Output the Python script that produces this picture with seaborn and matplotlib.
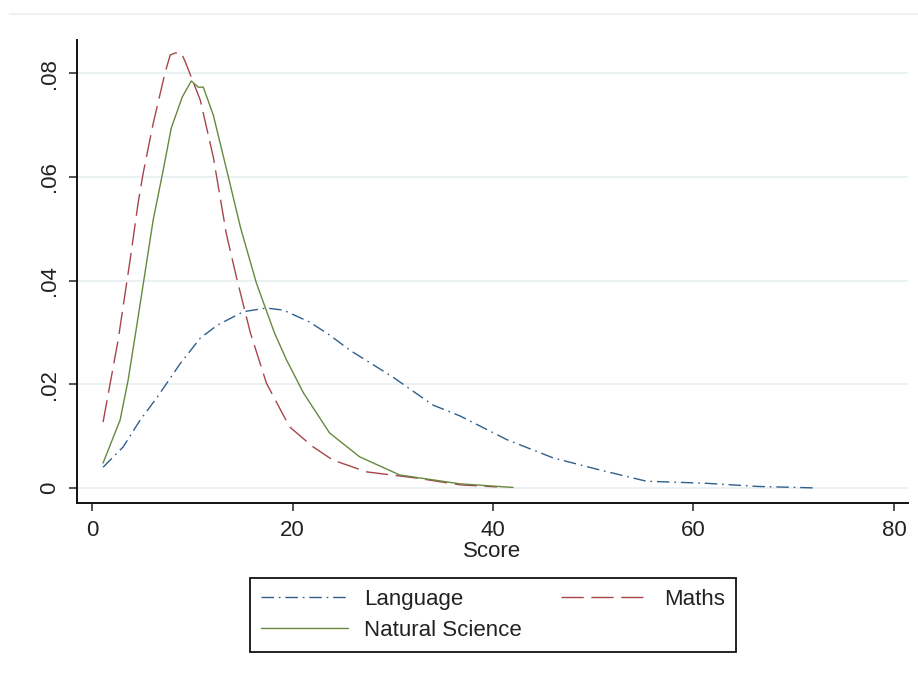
import pandas as pd
import seaborn as sns
import matplotlib.pyplot as plt
from matplotlib.lines import Line2D

# ============================
# DATA
# ============================
lang_x = [1.1, 3.1, 4.8, 6.5, 8.8, 10.8, 12.5, 15.1, 17.4, 19.1, 21.7, 23.7,
          25.7, 30.0, 34.0, 36.7, 41.4, 46.0, 50.6, 55.3, 61.3, 66.3, 72.3]
lang_y = [0.0040, 0.0079, 0.0131, 0.0175, 0.0240, 0.0289, 0.0314, 0.0340,
          0.0347, 0.0343, 0.0320, 0.0295, 0.0266, 0.0214, 0.0160, 0.0139,
          0.0093, 0.0058, 0.0035, 0.0013, 0.0009, 0.0003, 0.0000]

maths_x = [1.1, 2.6, 3.8, 4.6, 5.1, 6.1, 7.3, 7.8, 8.3, 8.9, 9.3, 10.8, 12.1,
           13.4, 14.4, 15.8, 17.4, 19.7, 22.0, 24.0, 27.4, 32.4, 36.7, 40.4]
maths_y = [0.0127, 0.0285, 0.0440, 0.0550, 0.0607, 0.0703, 0.0802, 0.0835,
           0.0839, 0.0839, 0.0822, 0.0748, 0.0638, 0.0490, 0.0407, 0.0299,
           0.0202, 0.0118, 0.0080, 0.0054, 0.0031, 0.0019, 0.0006, 0.0002]

sci_x = [1.1, 2.8, 3.6, 4.6, 6.1, 7.1, 7.9, 9.0, 9.9, 10.6, 11.1, 12.1, 13.6,
         14.8, 16.4, 18.2, 19.4, 21.1, 23.7, 26.7, 30.7, 36.7, 42.0]
sci_y = [0.0048, 0.0131, 0.0208, 0.0330, 0.0517, 0.0613, 0.0694, 0.0754,
         0.0785, 0.0773, 0.0773, 0.0719, 0.0600, 0.0503, 0.0395, 0.0299,
         0.0247, 0.0183, 0.0106, 0.0060, 0.0025, 0.0008, 0.0001]

subjects = ["Language", "Maths", "Natural Science"]
colors = {"Language": "#2f5f8a", "Maths": "#a8444c", "Natural Science": "#66883f"}
dashes = {"Language": (9, 3.5, 1.2, 3.5), "Maths": (16, 5.5), "Natural Science": ""}

xticks = [0, 20, 40, 60, 80]
yticks = [0, 0.02, 0.04, 0.06, 0.08]
ytick_labels = ["0", ".02", ".04", ".06", ".08"]

# ============================
# BUILD LONG TABLE
# ============================
df = pd.concat([
    pd.DataFrame({"Score": lang_x, "Density": lang_y, "Subject": "Language"}),
    pd.DataFrame({"Score": maths_x, "Density": maths_y, "Subject": "Maths"}),
    pd.DataFrame({"Score": sci_x, "Density": sci_y, "Subject": "Natural Science"}),
], ignore_index=True)

# ============================
# STYLE
# ============================
sns.set_theme(style="white")
plt.rcParams["font.family"] = ["Liberation Sans", "DejaVu Sans"]
plt.rcParams["lines.scale_dashes"] = False
plt.rcParams["text.color"] = "#222222"
plt.rcParams["axes.labelcolor"] = "#222222"
plt.rcParams["xtick.color"] = "#222222"
plt.rcParams["ytick.color"] = "#222222"

fig = plt.figure(figsize=(9.18, 6.77), dpi=100)
ax = fig.add_axes([77 / 918, 1 - 503 / 677, 831 / 918, 463 / 677])

sns.lineplot(data=df, x="Score", y="Density", hue="Subject", style="Subject",
             hue_order=subjects, style_order=subjects, palette=colors,
             dashes=dashes, sort=False, estimator=None, linewidth=1.0, ax=ax)

# ============================
# AXES
# ============================
ax.set_xlim(-1.5, 81.4)
ax.set_ylim(-0.0029, 0.0864)
ax.set_xticks(xticks)
ax.set_yticks(yticks, labels=ytick_labels)
for lab in ax.get_yticklabels():
    lab.set_rotation(90)
    lab.set_va("center")
ax.tick_params(axis="both", labelsize=16, direction="out", length=6,
               width=1.1, pad=6, left=True, bottom=True)
ax.set_xlabel("Score", fontsize=16, labelpad=0)
ax.set_ylabel("")
ax.grid(axis="y", color="#e8f0f2", linewidth=1.3)
ax.grid(axis="x", visible=False)
ax.set_axisbelow(True)
for side in ["top", "right"]:
    ax.spines[side].set_visible(False)
for side in ["left", "bottom"]:
    ax.spines[side].set_color("#111111")
    ax.spines[side].set_linewidth(1.4)

# light line at the top of the graph region
fig.add_artist(Line2D([10 / 918, 1.0], [1 - 14 / 677, 1 - 14 / 677],
                      color="#eef2f2", linewidth=1.5, transform=fig.transFigure))

# ============================
# LEGEND (below plot, boxed)
# ============================
handles, labels = ax.get_legend_handles_labels()
ax.get_legend().remove()
hmap = dict(zip(labels, handles))
order = ["Language", "Natural Science", "Maths"]
leg = fig.legend([hmap[k] for k in order], order, ncol=2,
                 loc="upper center", bbox_to_anchor=(493 / 918, 1 - 578 / 677),
                 borderaxespad=0, fontsize=16, frameon=True, fancybox=False,
                 framealpha=1, edgecolor="#111111", borderpad=0.5,
                 handlelength=3.9, handletextpad=0.7, columnspacing=1.8,
                 labelspacing=0.45)
leg.get_frame().set_linewidth(1.3)

fig.savefig("out.png", dpi=100)
